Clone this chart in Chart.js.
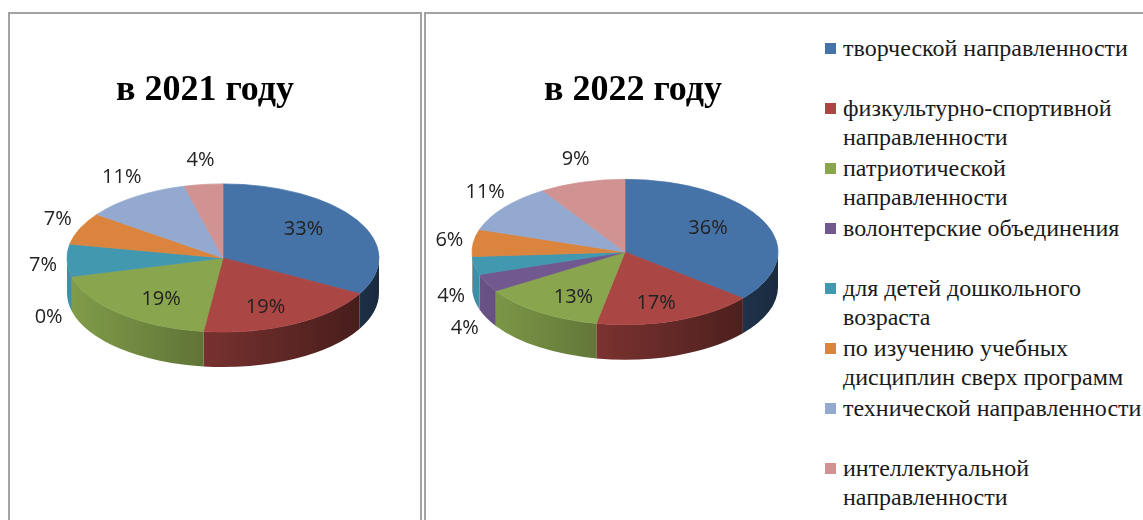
<!DOCTYPE html>
<html>
<head>
<meta charset="utf-8">
<script src="https://cdn.jsdelivr.net/npm/chart.js@4"></script>
<style>
  html, body { margin: 0; padding: 0; background: #fff; width: 1143px; height: 520px; overflow: hidden; }
  .panel { position: absolute; border: 2px solid #a3a3a3; box-sizing: border-box; }
  #p1 { left: 8px; top: 12px; width: 414px; height: 560px; }
  #p2 { left: 424px; top: 12px; width: 760px; height: 560px; }
  canvas { position: absolute; }
  .title { position: absolute; top: 70px; font-family: "Liberation Serif", "DejaVu Serif", serif; font-weight: bold; font-size: 36px; line-height: 36px; color: #000; white-space: nowrap; transform: translateX(-50%); }
  #legend { position: absolute; left: 825px; top: 34px; font-family: "Liberation Serif", "DejaVu Serif", serif; font-size: 24px; line-height: 29px; color: #1a1a1a; }
  .item { position: relative; height: 60px; padding-left: 18px; white-space: nowrap; }
  .sw { position: absolute; left: 0; top: 9px; width: 11px; height: 11px; }
</style>
</head>
<body>
<div class="panel" id="p1"></div>
<div class="panel" id="p2"></div>
<canvas id="c2021" width="410" height="506" style="left:10px;top:14px"></canvas>
<canvas id="c2022" width="390" height="506" style="left:426px;top:14px"></canvas>
<div class="title" id="t2021" style="left:205px"></div>
<div class="title" id="t2022" style="left:633px"></div>
<div id="legend"></div>
<script>
// данные
const titles = ['в 2021 году', 'в 2022 году'];
const categories = [
  ['творческой направленности'],
  ['физкультурно-спортивной', 'направленности'],
  ['патриотической', 'направленности'],
  ['волонтерские объединения'],
  ['для детей дошкольного', 'возраста'],
  ['по изучению учебных', 'дисциплин сверх программ'],
  ['технической направленности'],
  ['интеллектуальной', 'направленности']
];
const values2021 = [33, 19, 19, 0, 7, 7, 11, 4];
const values2022 = [36, 17, 13, 4, 4, 6, 11, 9];

const colors = ['#4572A7', '#AA4643', '#89A54E', '#71588F', '#4198AF', '#DB843D', '#93A9CF', '#D19392'];

function shade(hex, f) {
  const n = parseInt(hex.slice(1), 16);
  const r = Math.round(((n >> 16) & 255) * f);
  const g = Math.round(((n >> 8) & 255) * f);
  const b = Math.round((n & 255) * f);
  return `rgb(${r},${g},${b})`;
}

// псевдо-3D: боковая стенка + наклон круга в эллипс
const pie3d = {
  id: 'pie3d',
  beforeDatasetsDraw(chart, args, opts) {
    const ctx = chart.ctx;
    const arcs = chart.getDatasetMeta(0).data;
    const cx = arcs[0].x, cy = arcs[0].y, r = arcs[0].outerRadius;
    const ry = r * opts.tilt, depth = opts.depth;
    arcs.forEach((arc, i) => {
      const a0 = Math.max(arc.startAngle, 0);
      const a1 = Math.min(arc.endAngle, Math.PI);
      if (a1 <= a0) return;
      const col = chart.data.datasets[0].backgroundColor[i];
      const grad = ctx.createLinearGradient(cx - r, 0, cx + r, 0);
      grad.addColorStop(0, shade(col, 0.95));
      grad.addColorStop(1, shade(col, 0.38));
      ctx.beginPath();
      ctx.ellipse(cx, cy, r, ry, 0, a0, a1);
      ctx.ellipse(cx, cy + depth, r, ry, 0, a1, a0, true);
      ctx.closePath();
      ctx.fillStyle = grad;
      ctx.fill();
    });
    ctx.save();
    ctx.translate(cx, cy);
    ctx.scale(1, opts.tilt);
    ctx.translate(-cx, -cy);
  },
  afterDatasetsDraw(chart, args, opts) {
    const ctx = chart.ctx;
    ctx.restore();
    const arcs = chart.getDatasetMeta(0).data;
    const cx = arcs[0].x, cy = arcs[0].y, r = arcs[0].outerRadius;
    const ry = r * opts.tilt, depth = opts.depth;
    const data = chart.data.datasets[0].data;
    ctx.save();
    ctx.font = '20px "Open Sans", sans-serif';
    ctx.fillStyle = '#222';
    ctx.textAlign = 'center';
    ctx.textBaseline = 'middle';
    arcs.forEach((arc, i) => {
      const v = data[i];
      const m = (arc.startAngle + arc.endAngle) / 2;
      const c = Math.cos(m), s = Math.sin(m);
      let x, y;
      if (v >= 12) {
        x = cx + r * 0.6 * c;
        y = cy + ry * 1.25 * 0.6 * s;
      } else {
        x = cx + (r + 24) * c;
        y = cy + (ry + 24) * s + (s > 0 ? depth * Math.min(1, s / 0.25) : 0);
      }
      ctx.fillText(v + '%', x, y);
    });
    ctx.restore();
  }
};

function makePie(id, values, pad, radius) {
  return new Chart(document.getElementById(id), {
    type: 'pie',
    data: {
      labels: categories.map(c => c.join(' ')),
      datasets: [{
        data: values,
        backgroundColor: colors,
        borderColor: colors,
        borderWidth: values.map(v => (v ? 1 : 0)),
        radius: radius
      }]
    },
    options: {
      responsive: false,
      animation: false,
      events: [],
      devicePixelRatio: 1,
      layout: { padding: pad },
      plugins: {
        legend: { display: false },
        tooltip: { enabled: false },
        pie3d: { tilt: 0.475, depth: 35 }
      }
    },
    plugins: [pie3d]
  });
}

makePie('c2021', values2021, { left: 53, right: 37, top: 84, bottom: 102 }, 156);
makePie('c2022', values2022, { left: 39, right: 31, top: 78, bottom: 108 }, 153);

document.getElementById('t2021').textContent = titles[0];
document.getElementById('t2022').textContent = titles[1];

// легенда
const legend = document.getElementById('legend');
categories.forEach((lines, i) => {
  const item = document.createElement('div');
  item.className = 'item';
  const sw = document.createElement('span');
  sw.className = 'sw';
  sw.style.background = colors[i];
  item.appendChild(sw);
  lines.forEach((t, j) => {
    if (j) item.appendChild(document.createElement('br'));
    item.appendChild(document.createTextNode(t));
  });
  legend.appendChild(item);
});
</script>
</body>
</html>
